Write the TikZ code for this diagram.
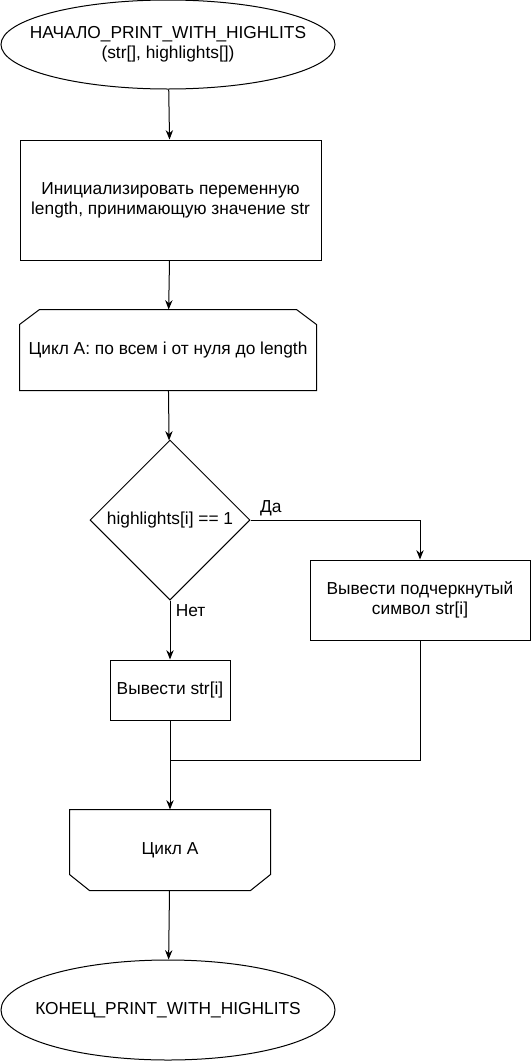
\documentclass[tikz,border=0pt]{standalone}
\usepackage{fontspec}
\setmainfont{Liberation Sans}
\usetikzlibrary{arrows.meta,shapes.geometric}

\tikzset{
  terminal/.style={draw, ellipse, align=center, inner xsep=-40pt, inner ysep=-10pt,
    minimum width=250.5pt, minimum height=#1},
  procbox/.style={draw, rectangle, align=center, inner sep=2pt},
  loopbox/.style={rectangle, align=center, inner sep=2pt, minimum height=60pt},
  decision/.style={draw, diamond, align=center, inner sep=0pt, minimum width=120pt, minimum height=120pt},
  branchlabel/.style={inner sep=0pt}
}

\begin{document}
\begin{tikzpicture}[x=0.75pt, y=-0.75pt, >={Stealth[length=7pt,width=5.5pt]},
    font=\fontsize{13}{15}\selectfont, line width=0.75pt]
  \useasboundingbox (0,0) rectangle (531,1061);

  \node[terminal=66.75pt] (start) at (168,44.5) {НАЧАЛО\_PRINT\_WITH\_HIGHLITS\\(str[], highlights[])};
  \node[procbox, minimum width=225.75pt, minimum height=90pt] (init) at (170.5,200)
    {Инициализировать переменную\\length, принимающую значение str};
  \node[loopbox, minimum width=222pt] (loopA) at (168,350)
    {Цикл А: по всем i от нуля до length};
  \node[decision] (cond) at (170,520) {highlights[i] == 1};
  \node[procbox, minimum width=165pt, minimum height=60pt] (under) at (420,600)
    {Вывести подчеркнутый\\символ str[i]};
  \node[procbox, minimum width=90pt, minimum height=45pt] (plain) at (170,690) {Вывести str[i]};
  \node[loopbox, minimum width=150pt] (loopend) at (170,850) {Цикл А};
  \node[terminal=75pt] (stop) at (168,1010) {КОНЕЦ\_PRINT\_WITH\_HIGHLITS};

  \coordinate (join) at (170,760);

  % loop limits with cut corners
  \draw ([xshift=15pt]loopA.north west) -- ([xshift=-15pt]loopA.north east)
    -- ([yshift=-11.25pt]loopA.north east) -- (loopA.south east)
    -- (loopA.south west) -- ([yshift=-11.25pt]loopA.north west) -- cycle;
  \draw (loopend.north west) -- (loopend.north east)
    -- ([yshift=12pt]loopend.south east) -- ([xshift=-15pt]loopend.south east)
    -- ([xshift=15pt]loopend.south west) -- ([yshift=12pt]loopend.south west) -- cycle;

  \draw[->] (start) -- (init);
  \draw[->] (init) -- (loopA);
  \draw[->] (loopA) -- (cond);
  \draw[->] (cond.east) -| (under.north) node[branchlabel, pos=0.06, above, yshift=3pt] {Да};
  \draw[->] (cond.south) -- (plain.north) node[branchlabel, pos=0.17, right, xshift=4pt] {Нет};
  \draw[->] (plain) -- (loopend);
  \draw (under.south) |- (join);
  \draw[->] (loopend) -- (stop);
\end{tikzpicture}
\end{document}
